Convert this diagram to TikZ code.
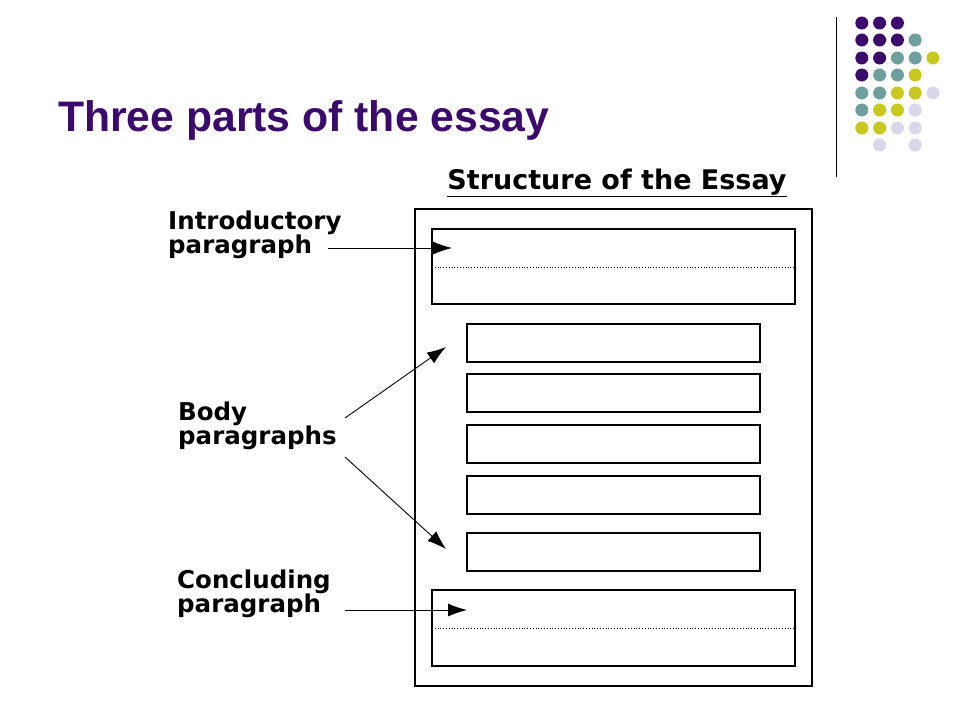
\documentclass[tikz,border=0pt]{standalone}
\usepackage{fontspec}
\setmainfont{Liberation Sans}
\newfontfamily\labelfont{DejaVu Sans}
\usetikzlibrary{arrows.meta}
\definecolor{dpurple}{HTML}{3B0A6C}
\definecolor{dteal}{HTML}{6E9E9E}
\definecolor{dyellow}{HTML}{C8C81E}
\definecolor{dlav}{HTML}{D8D8EA}
\begin{document}
\begin{tikzpicture}[x=1pt, y=-1pt,
    parabox/.style={draw, line width=1.3pt},
    lbl/.style={align=left, anchor=north west, inner sep=0pt, font=\labelfont\bfseries\fontsize{24.5}{24}\selectfont},
    pointer/.style={-{Latex[length=19pt, width=13pt]}, line width=0.9pt}]
    \useasboundingbox (0,0) rectangle (960,720);
    % decoration
    \draw[line width=1pt] (836,17) -- (836,177);
    \foreach \row/\cols in {23/{1/dpurple,2/dpurple,3/dpurple},
        40/{1/dpurple,2/dpurple,3/dpurple,4/dteal},
        58/{1/dpurple,2/dpurple,3/dteal,4/dteal,5/dyellow},
        75/{1/dpurple,2/dteal,3/dteal,4/dyellow},
        93/{1/dteal,2/dteal,3/dyellow,4/dyellow,5/dlav},
        110/{1/dteal,2/dyellow,3/dyellow,4/dlav},
        128/{1/dyellow,2/dyellow,3/dlav,4/dlav},
        145/{2/dlav,4/dlav}}{
        \foreach \c/\col in \cols{
            \fill[\col] (844+\c*17.8,\row) circle (6.5pt);
        }
    }
    \node[anchor=west, inner sep=0pt, text=dpurple, font=\bfseries\fontsize{42.7}{46}\selectfont] (title) at (58,120) {Three parts of the essay};
    % essay structure
    \node[font=\labelfont\bfseries\fontsize{27}{28}\selectfont, inner sep=0pt] (head) at (617,183) {\underline{Structure of the Essay}};
    \draw[parabox] (415,209) rectangle (812,686);
    \draw[parabox] (432,229) rectangle (795,304);
    \draw[dotted, line width=0.8pt] (432,267) -- (795,267);
    \foreach \y in {324,374,425,476,533}{
        \draw[parabox] (467,\y) rectangle (760,\y+38);
    }
    \draw[parabox] (432,590) rectangle (795,666);
    \draw[dotted, line width=0.8pt] (432,628) -- (795,628);
    % labels
    \node[lbl] (intro) at (168,211) {Introductory\\paragraph};
    \node[lbl] (body) at (178,402) {Body\\paragraphs};
    \node[lbl] (concl) at (177,570) {Concluding\\paragraph};
    \coordinate (introtip) at (452,248);
    \coordinate (bodytop) at (446,347);
    \coordinate (bodybot) at (446,549);
    \coordinate (concltip) at (467,610);
    \draw[pointer] (328,248) -- (introtip);
    \draw[pointer] (345,418) -- (bodytop);
    \draw[pointer] (345,457) -- (bodybot);
    \draw[pointer] (345,610) -- (concltip);
\end{tikzpicture}
\end{document}
